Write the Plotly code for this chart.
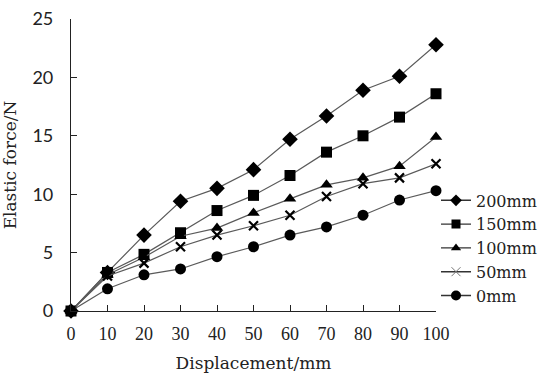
import plotly.graph_objects as go

displacement = [0, 10, 20, 30, 40, 50, 60, 70, 80, 90, 100]
force_200 = [0, 3.3, 6.5, 9.4, 10.5, 12.1, 14.7, 16.7, 18.9, 20.1, 22.8]
force_150 = [0, 3.3, 4.85, 6.7, 8.6, 9.9, 11.6, 13.6, 15.0, 16.6, 18.6]
force_100 = [0, 3.1, 4.6, 6.4, 7.1, 8.4, 9.6, 10.8, 11.4, 12.4, 14.9]
force_50 = [0, 3.0, 4.1, 5.5, 6.5, 7.3, 8.2, 9.8, 10.9, 11.4, 12.6]
force_0 = [0, 1.9, 3.1, 3.6, 4.65, 5.5, 6.5, 7.2, 8.2, 9.5, 10.3]

# name, values, symbol, plot marker size, legend marker size
series = [
    ("200mm", force_200, "diamond", 12, 9),
    ("150mm", force_150, "square", 11, 9),
    ("100mm", force_100, "triangle-up", 11, 9),
    ("50mm", force_50, "x-thin", 9, 9),
    ("0mm", force_0, "circle", 11, 10),
]

serif = "Liberation Serif, serif"
wide_serif = "DejaVu Serif, serif"
line_col = "#5a5a5a"

fig = go.Figure()
for name, vals, sym, sz, lsz in series:
    marker = dict(symbol=sym, size=sz, color="black")
    lmarker = dict(symbol=sym, size=lsz, color="black")
    if sym == "x-thin":
        marker["line"] = dict(color="black", width=2.2)
        lmarker["line"] = dict(color="#777", width=1)
    fig.add_trace(go.Scatter(
        x=displacement, y=vals, name=name, mode="lines+markers",
        line=dict(color=line_col, width=1.2), marker=marker, cliponaxis=False,
        showlegend=False,
    ))
    fig.add_trace(go.Scatter(
        x=[None], y=[None], name=name, mode="lines+markers",
        line=dict(color="#333", width=1.4), marker=lmarker, showlegend=True,
    ))

fig.update_layout(
    width=550, height=380,
    margin=dict(l=71, r=114, t=19, b=69, autoexpand=False),
    plot_bgcolor="white", paper_bgcolor="white",
    font=dict(family=serif, size=17, color="#222"),
    legend=dict(x=1.0, y=0.437, xanchor="left", yanchor="top",
                font=dict(family=wide_serif, size=16, color="#222"),
                bgcolor="rgba(0,0,0,0)", tracegroupgap=0),
    showlegend=True,
)
fig.update_xaxes(
    range=[0, 100], tickvals=displacement, ticks="inside", ticklen=6,
    tickcolor="#222", showline=True, linecolor="#222", linewidth=1.2,
    showgrid=False, zeroline=False, automargin=False, ticklabelstandoff=6,
    title=dict(text="Displacement/mm", font=dict(family=wide_serif, size=17), standoff=14),
    tickfont=dict(family=serif, size=18),
)
fig.update_yaxes(
    range=[0, 25], tickvals=[0, 5, 10, 15, 20, 25], ticks="inside", ticklen=6,
    tickcolor="#222", showline=True, linecolor="#222", linewidth=1.2,
    showgrid=False, zeroline=False, ticklabelstandoff=13, automargin=False,
    title=dict(text="Elastic force/N", font=dict(family=wide_serif, size=17), standoff=14),
    tickfont=dict(family="Lato, sans-serif", size=18),
)

fig.write_html("out.html", config={"displayModeBar": False},
               post_script="document.body.style.margin='0';")
